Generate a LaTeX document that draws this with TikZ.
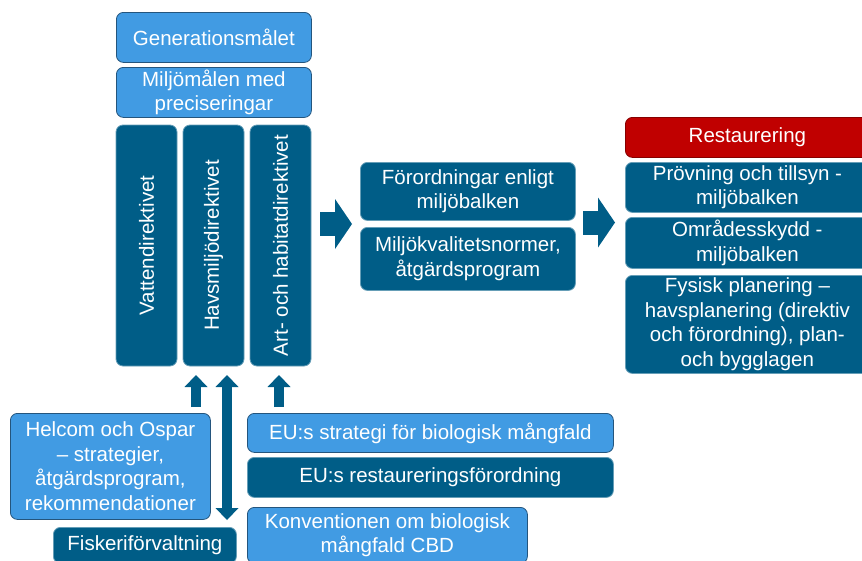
\documentclass[tikz,border=0pt]{standalone}
\usepackage{fontspec}
\setmainfont{Liberation Sans}
\usetikzlibrary{arrows.meta}
\definecolor{ljusbla}{HTML}{419BE3}
\definecolor{morkbla}{HTML}{005D87}
\definecolor{rod}{HTML}{C00000}

\begin{document}
\begin{tikzpicture}[x=1pt, y=-1pt,
    ruta/.style={rounded corners=7pt, anchor=north west, inner sep=0pt, text=white, align=center,
      font=\fontsize{20.5}{24.5}\selectfont, line width=0.8pt},
    ljus/.style={ruta, fill=ljusbla, draw=ljusbla!55!black},
    mork/.style={ruta, fill=morkbla, draw=morkbla!60!white},
    rodruta/.style={ruta, fill=rod, draw=rod!70!black},
    blockpil/.style={line width=24pt, morkbla, -{Triangle[width=50pt, length=17pt, line width=0pt]}},
    uppil/.style={line width=10pt, morkbla, -{Triangle[width=23pt, length=12pt, line width=0pt]}},
    dubbelpil/.style={line width=10pt, morkbla,
      {Triangle[width=23pt, length=12pt, line width=0pt]}-{Triangle[width=23pt, length=12pt, line width=0pt]}}]

      \useasboundingbox (0,0) rectangle (862,560);

      % mål
      \node[ljus, minimum width=195, minimum height=50] (gen) at (116,12) {Generationsmålet};
      \node[ljus, minimum width=195, minimum height=50] (mal) at (116,67) {Miljömålen med\\preciseringar};

      % direktiv
      \node[mork, anchor=center, rotate=90, minimum width=241, minimum height=61] (vatten) at (146.5,245.5) {Vattendirektivet};
      \node[mork, anchor=center, rotate=90, minimum width=241, minimum height=61] (havs) at (213.5,245.5) {Havsmiljödirektivet};
      \node[mork, anchor=center, rotate=90, minimum width=241, minimum height=61] (art) at (280.5,245.5) {Art- och habitatdirektivet};

      % svensk lagstiftning
      \node[mork, minimum width=215, minimum height=58] (forord) at (360,162) {Förordningar enligt\\miljöbalken};
      \node[mork, minimum width=215, minimum height=63] (mkn) at (360,227) {Miljökvalitetsnormer,\\åtgärdsprogram};

      % verktyg
      \node[rodruta, minimum width=244, minimum height=40] (rest) at (625,117) {Restaurering};
      \node[mork, minimum width=244, minimum height=50] (provning) at (625,162) {Prövning och tillsyn -\\miljöbalken};
      \node[mork, minimum width=244, minimum height=51] (omr) at (625,217) {Områdesskydd -\\miljöbalken};
      \node[mork, minimum width=244, minimum height=98] (fysisk) at (625,275) {Fysisk planering –\\havsplanering (direktiv\\och förordning), plan-\\och bygglagen};

      % internationellt
      \node[ljus, minimum width=200, minimum height=106] (helcom) at (10,413) {Helcom och Ospar\\– strategier,\\åtgärdsprogram,\\rekommendationer};
      \node[mork, minimum width=183, minimum height=36] (fiske) at (53,527) {Fiskeriförvaltning};
      \node[ljus, minimum width=366, minimum height=39] (eustrat) at (247,413) {EU:s strategi för biologisk mångfald};
      \node[mork, minimum width=366, minimum height=40] (eurest) at (247,457) {EU:s restaureringsförordning};
      \node[ljus, minimum width=280, minimum height=56] (cbd) at (247,507) {Konventionen om biologisk\\mångfald CBD};

      % pilar
      \coordinate (p1a) at (320,224);
      \coordinate (p1b) at (352,224);
      \coordinate (p2a) at (583,222.5);
      \coordinate (p2b) at (615,222.5);
      \draw[blockpil] (p1a) -- (p1b);
      \draw[blockpil] (p2a) -- (p2b);

      \coordinate (u1a) at (196,407);
      \coordinate (u1b) at (196,375);
      \coordinate (u2a) at (279,407);
      \coordinate (u2b) at (279,375);
      \coordinate (d1a) at (227,520);
      \coordinate (d1b) at (227,375);
      \draw[uppil] (u1a) -- (u1b);
      \draw[uppil] (u2a) -- (u2b);
      \draw[dubbelpil] (d1a) -- (d1b);

    \end{tikzpicture}
\end{document}
